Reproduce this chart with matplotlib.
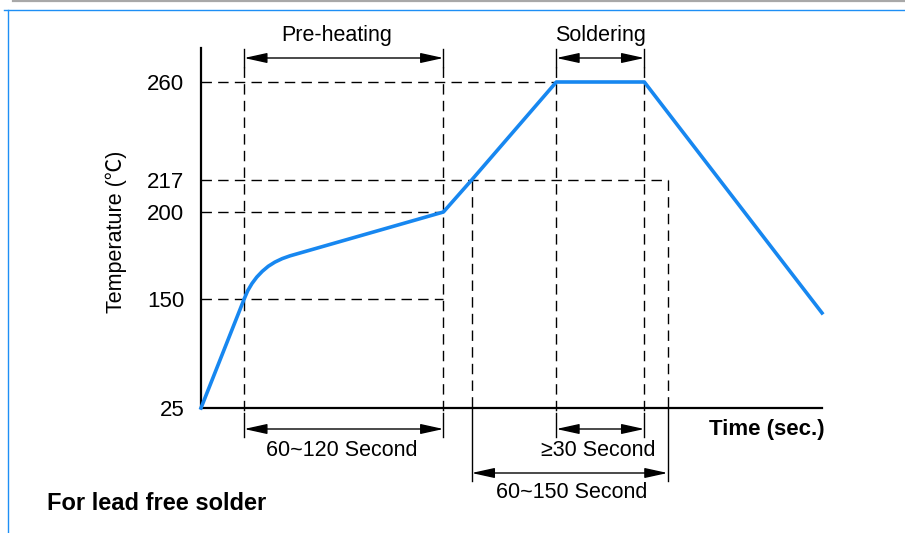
import matplotlib
matplotlib.use("Agg")
import matplotlib.pyplot as plt
import numpy as np
from matplotlib.lines import Line2D

plt.rcParams["font.family"] = ["Liberation Sans", "Noto Sans CJK SC", "DejaVu Sans"]

# profile data (time in s, temperature in C)
time = [0, 26, 28.1, 30.7, 33.6, 36.9, 40.5, 44.5, 48.9, 53.6, 146, 163, 214, 267, 374]
temp = [25, 150, 154.7, 158.9, 162.6, 165.9, 168.8, 171.2, 173.2, 174.8, 200, 217, 260, 260, 134]

temp_ticks = [25, 150, 200, 217, 260]
# spacing of the temperature axis in the drawing (not linear)
tick_space = [0, 109, 196, 228, 326]

t_pre = (26, 146)      # pre-heating / 60~120 Second
t_sold = (214, 267)    # soldering / >=30 Second
t_liq = (163, 281)     # above 217 / 60~150 Second

# extended piecewise scale
t_ext = [-300] + temp_ticks + [700]
s_ext = [-325 * 0.872] + tick_space + [326 + 440 * 2.279]


def fwd(v):
    return np.interp(v, t_ext, s_ext)


def inv(v):
    return np.interp(v, s_ext, t_ext)


W, H = 905, 533
fig = plt.figure(figsize=(W / 100, H / 100), dpi=100)
ax = fig.add_axes([201 / W, (H - 408) / H, (822 - 201) / W, (408 - 48) / H])
ax.set_yscale("function", functions=(fwd, inv))
ax.set_xlim(0, 374)
ax.set_ylim(25, inv(360))


def yfrac(T):
    return fwd(T) / 360.0


def pfrac(p):
    # pixel row of the figure -> axes fraction
    return (408 - p) / 360.0


for s in ["top", "right"]:
    ax.spines[s].set_visible(False)
for s in ["left", "bottom"]:
    ax.spines[s].set_linewidth(1.6)
    ax.spines[s].set_color("black")
ax.set_xticks([])
ax.set_yticks(temp_ticks)
ax.set_yticklabels([str(v) for v in temp_ticks])
ax.tick_params(axis="y", length=0, pad=12, labelsize=16)

dash = (0, (7.5, 4.5))
xt = ax.get_xaxis_transform()

# horizontal guides
for T, t_end in [(260, t_sold[0]), (217, t_liq[1]), (200, t_pre[1]), (150, t_pre[1])]:
    ax.plot([0, t_end], [T, T], color="black", lw=1.0, ls=dash, clip_on=False)

# vertical guides
for t in t_pre + t_sold:
    ax.plot([t, t], [pfrac(67), pfrac(413)], transform=xt, color="black", lw=1.0, ls=dash, clip_on=False)
    ax.plot([t, t], [pfrac(49), pfrac(67)], transform=xt, color="black", lw=1.0, clip_on=False)
    ax.plot([t, t], [pfrac(413), pfrac(437)], transform=xt, color="black", lw=1.0, clip_on=False)
for t in t_liq:
    ax.plot([t, t], [yfrac(217), 0], transform=xt, color="black", lw=1.0, ls=dash, clip_on=False)
    ax.plot([t, t], [0, pfrac(481)], transform=xt, color="black", lw=1.0, clip_on=False)

# profile curve
ax.plot(time, temp, color="#1787F0", lw=2.6, solid_joinstyle="round", clip_on=False, zorder=5)

ap = dict(arrowstyle="<|-|>,head_length=1.0,head_width=0.22", mutation_scale=14,
          color="black", lw=1.0, shrinkA=0, shrinkB=0)


def span(t0, t1, p):
    ax.annotate("", xy=(t1, pfrac(p)), xytext=(t0, pfrac(p)), xycoords=xt,
                textcoords=xt, arrowprops=ap, annotation_clip=False)


span(*t_pre, 58)
span(*t_sold, 58)
span(*t_pre, 429)
span(*t_sold, 429)
span(*t_liq, 473)

fs = 15.5
ax.text(81.5, pfrac(36), "Pre-heating", transform=xt, ha="center", va="center", fontsize=fs)
ax.text(np.mean(t_sold), pfrac(36), "Soldering", transform=xt, ha="center", va="center", fontsize=fs)
ax.text(np.mean(t_pre) - 1, pfrac(451), "60~120 Second", transform=xt, ha="center", va="center", fontsize=fs)
ax.text(239, pfrac(450), "≥30 Second", transform=xt, ha="center", va="center", fontsize=fs)
ax.text(223, pfrac(493), "60~150 Second", transform=xt, ha="center", va="center", fontsize=fs)
ax.text(341, pfrac(430), "Time (sec.)", transform=xt, ha="center", va="center",
        fontsize=16, fontweight="bold")

fig.text(116 / W, 1 - 232 / H, "Temperature (℃)", rotation=90, ha="center", va="center", fontsize=fs)
fig.text(47 / W, 1 - 504 / H, "For lead free solder", ha="left", va="center",
         fontsize=17, fontweight="bold")

# page frame
fig.add_artist(Line2D([13 / W, 1], [1 - 1 / H, 1 - 1 / H], color="#A8A8A8", lw=1.6))
fig.add_artist(Line2D([4 / W, 1], [1 - 10 / H, 1 - 10 / H], color="#1E8FF5", lw=1.0))
fig.add_artist(Line2D([8 / W, 8 / W], [1 - 10 / H, 0], color="#1E8FF5", lw=1.0))

fig.savefig("out.png", dpi=100)
